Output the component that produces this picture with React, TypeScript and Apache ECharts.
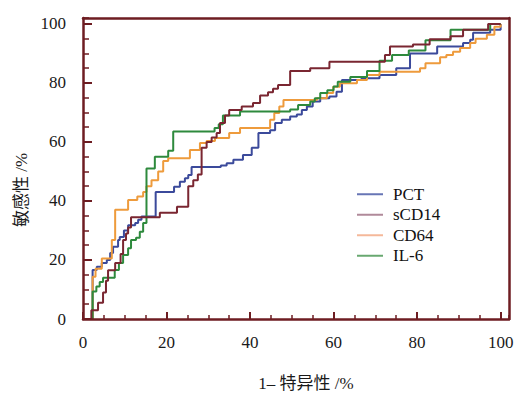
import React, { useEffect, useRef } from "react";
import * as echarts from "echarts";

const seriesNames = ["PCT", "sCD14", "CD64", "IL-6"];
const axisMin = 0;
const axisMax = 102;
const majorStep = 20;
const minorStep = 5;
const xTitle = "1– 特异性 /%";
const yTitle = "敏感性 /%";

// step points: [1-specificity %, sensitivity % after the step]
const pct = [
  [0, 0], [2.3, 16.6], [3.3, 17.7], [4.5, 19], [5.7, 20], [6.5, 22.4], [7.2, 24.5], [8.4, 26.8],
  [8.8, 27.8], [9.8, 30], [10.8, 31.8], [12.5, 32.5], [13.2, 33.6], [14, 34.7], [17.4, 43],
  [21.8, 44.8], [23.2, 46.5], [24.4, 47.7], [25.2, 48.8], [26, 51.5], [33, 52], [34.4, 52.8],
  [36, 54], [38.3, 55.6], [40.4, 58], [42, 63], [44.8, 64], [46, 66.4], [47.6, 67.5], [49.6, 68.6],
  [51.2, 69.3], [52.4, 70.8], [53.6, 72], [55, 73.7], [56.8, 74.8], [59, 75.4], [60.7, 77],
  [62, 81], [66.7, 81.6], [71, 82.7], [75, 85], [78.3, 90], [84.8, 92.3], [91, 93.5],
  [92.7, 94.6], [93.4, 97], [97.5, 98], [100, 100],
];
const scd14 = [
  [0, 0], [2, 3], [3.6, 5.5], [4.8, 9], [5.5, 13], [6, 16.5], [7.7, 19], [9, 22], [9.6, 26.8],
  [10.3, 29], [10.8, 31], [11.5, 34.5], [18.4, 36], [22.5, 38], [25.2, 45], [26.4, 47],
  [27.5, 49], [28.4, 58], [29.6, 60], [30.8, 61.5], [32, 63], [32.8, 66.4], [34, 69],
  [35, 70.8], [38, 72], [40.7, 73.2], [42.4, 75.7], [44.3, 76.8], [45.5, 78], [46.7, 79.3],
  [49.6, 84], [54.4, 85], [59, 87.2], [72.3, 89.5], [73.5, 92.3], [79, 93], [83, 94.8],
  [88, 95.8], [91, 98], [97, 100], [100, 100],
];
const cd64 = [
  [0, 0], [2.3, 14.3], [3, 17], [4.5, 20.5], [6.9, 26.8], [7.7, 37], [10.8, 40.3], [13, 41.5],
  [14.4, 43], [15.2, 45], [16.4, 47], [18, 50], [19.2, 53.5], [20.4, 54.5], [25.6, 57.3],
  [28, 59.6], [29.6, 60.3], [31.6, 61.3], [35, 63], [37.6, 64.7], [44.8, 67.5], [45.8, 69.8],
  [47, 72], [48, 74.2], [56, 74.8], [58.4, 76.6], [59.9, 78.7], [61.5, 79.9], [65.6, 81],
  [68, 82.7], [71, 83.8], [80.7, 85], [82, 86.7], [85.5, 88.7], [87, 89.5], [88.6, 90.6],
  [90.3, 91.8], [92.7, 93.5], [94, 95], [96.7, 96.3], [98.5, 99], [100, 100],
];
const il6 = [
  [0, 0], [2.3, 9.3], [3.2, 11], [4, 12.5], [4.8, 14], [7.6, 16.6], [8.6, 19], [9.6, 21.7],
  [10.8, 24], [11.5, 26.8], [12.7, 27.5], [13.6, 29.6], [14.4, 32.5], [15.2, 51], [17.2, 55],
  [20.4, 57], [21.6, 63.5], [31.5, 64.7], [32.5, 66], [33.5, 69], [37.6, 70.3], [49.6, 71],
  [51.5, 72.5], [54.4, 73.7], [55.5, 74.8], [56.8, 76.6], [58.5, 77.5], [60, 78.8], [61, 80.4],
  [64, 82], [68, 84], [71, 87.5], [74, 89.5], [78, 91], [82, 94.5], [88, 98], [97.5, 100],
  [100, 100],
];

const seriesData = [pct, scd14, cd64, il6];
const lineColors = ["#3b4a9b", "#7a2631", "#ee9b3c", "#2e8a3d"];
const legendColors = ["#6775b5", "#b08a9a", "#f5b89a", "#68a870"];
const frame = "#6e1d22";
const serif = "'Liberation Serif', 'DejaVu Serif', serif";
const cjk = "'Liberation Serif', 'Noto Sans CJK SC', serif";

export default function App() {
  const ref = useRef<HTMLDivElement>(null);
  useEffect(() => {
    const chart = echarts.init(ref.current!, null, { renderer: "svg" });
    const labelStyle = { fontSize: 17, color: "#1a1a1a", fontFamily: serif, showMaxLabel: false };
    const majorAxis = (len: number, margin: number) => ({
      type: "value", min: axisMin, max: axisMax, interval: majorStep,
      axisLine: { show: true, onZero: false, lineStyle: { color: frame, width: 2.5 } },
      axisTick: { show: true, inside: true, length: len, lineStyle: { color: frame, width: 2 } },
      axisLabel: { ...labelStyle, margin },
      splitLine: { show: false },
      z: 5,
    });
    const minorAxis = (len: number) => ({
      type: "value", min: axisMin, max: axisMax, interval: minorStep,
      axisLine: { show: false, onZero: false },
      axisTick: { show: true, inside: true, length: len, lineStyle: { color: frame, width: 1.5 } },
      axisLabel: { show: false },
      splitLine: { show: false },
      z: 5,
    });
    const frameAxis = {
      type: "value", min: axisMin, max: axisMax,
      axisLine: { show: true, onZero: false, lineStyle: { color: frame, width: 2.5 } },
      axisTick: { show: false }, axisLabel: { show: false }, splitLine: { show: false },
      z: 5,
    };
    chart.setOption({
      animation: false,
      backgroundColor: "#ffffff",
      grid: { left: 83, right: 11, top: 18, bottom: 77, show: false },
      legend: {
        orient: "vertical", left: 357, top: 184, padding: 0,
        icon: "rect", itemWidth: 26, itemHeight: 2, itemGap: 0,
        textStyle: { fontSize: 17, lineHeight: 20.5, color: "#111", fontFamily: serif, padding: [0, 0, 0, 5] },
        data: seriesNames.map((n, i) => ({ name: n, itemStyle: { color: legendColors[i] } })),
      },
      graphic: [
        {
          type: "text", x: 306, y: 383,
          style: { text: xTitle, fontSize: 17, fill: "#1a1a1a", fontFamily: cjk, align: "center", verticalAlign: "middle" },
        },
        {
          type: "text", x: 21, y: 190, rotation: Math.PI / 2,
          style: { text: yTitle, fontSize: 17, fill: "#1a1a1a", fontFamily: cjk, align: "center", verticalAlign: "middle" },
        },
      ],
      xAxis: [
        { ...majorAxis(7, 15), position: "bottom" },
        { ...minorAxis(4), position: "bottom" },
        { ...frameAxis, position: "top" },
      ],
      yAxis: [
        { ...majorAxis(9, 17), position: "left" },
        { ...minorAxis(6), position: "left" },
        { ...frameAxis, position: "right" },
      ],
      series: seriesNames.map((n, i) => ({
        name: n, type: "line", step: "end", data: seriesData[i],
        xAxisIndex: 0, yAxisIndex: 0,
        showSymbol: false, symbol: "none",
        lineStyle: { color: lineColors[i], width: 2 },
        itemStyle: { color: lineColors[i] },
        z: 2 + (i === 1 ? 1 : 0),
      })),
    });
    return () => chart.dispose();
  }, []);
  return <div ref={ref} style={{ position: "fixed", left: 0, top: 0, width: 520, height: 396 }} />;
}
